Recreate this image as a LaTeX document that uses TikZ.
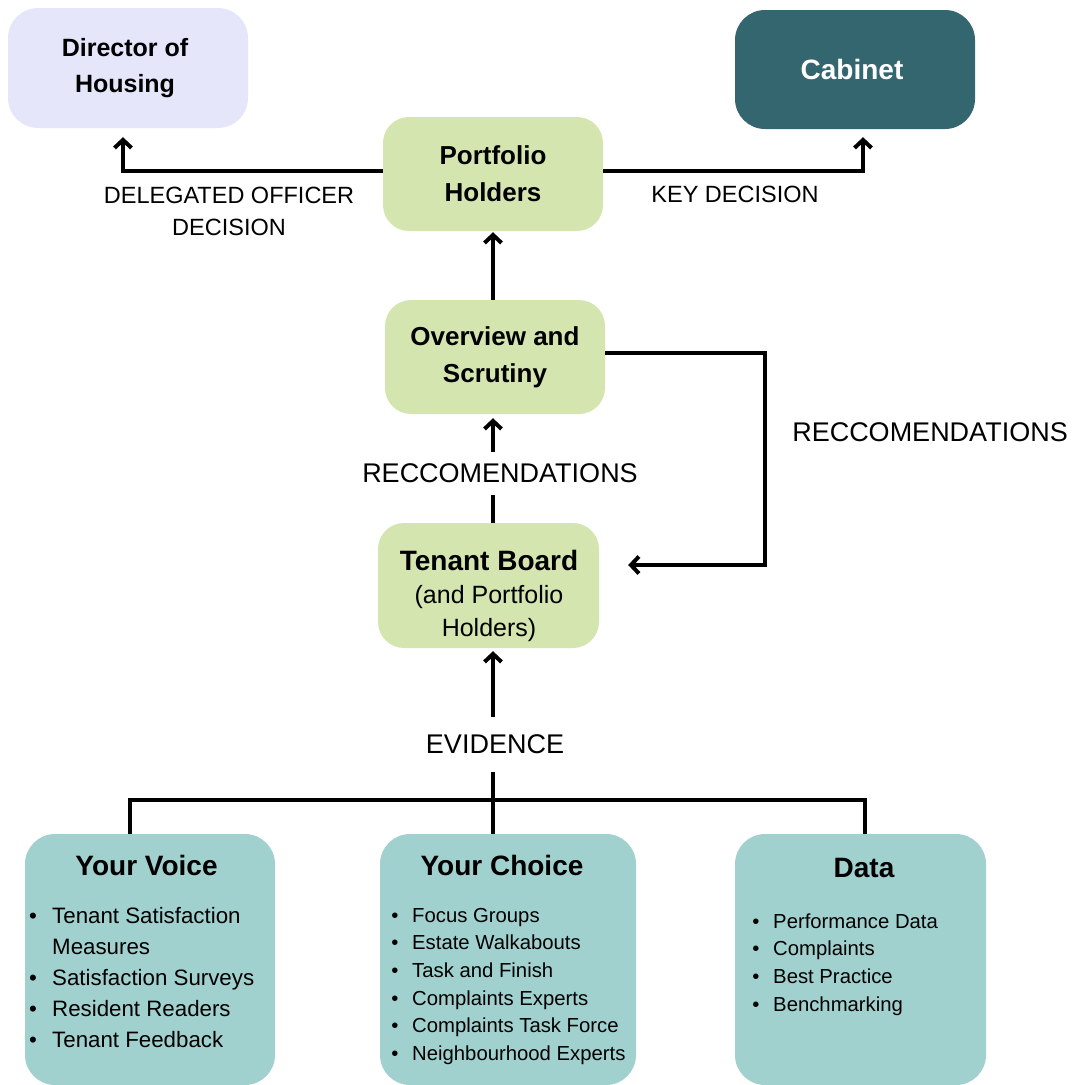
\documentclass[tikz,border=0pt]{standalone}
\usepackage{fontspec}
\setmainfont{Liberation Sans}
\usetikzlibrary{arrows.meta,calc}
\definecolor{lav}{HTML}{E6E6FB}
\definecolor{cab}{HTML}{33666F}
\definecolor{grn}{HTML}{D4E5B0}
\definecolor{tl}{HTML}{A1D1CF}
\begin{document}
\begin{tikzpicture}[x=1pt,y=-1pt,
  topbox/.style={rounded corners=30pt, inner sep=0pt, align=center, font=\bfseries\fontsize{25}{36}\selectfont},
  grnbox/.style={rounded corners=26pt, fill=grn, inner sep=0pt, align=center, font=\bfseries\fontsize{26}{37}\selectfont},
  botbox/.style={rounded corners=30pt, fill=tl, inner sep=0pt, minimum height=251pt},
  head/.style={anchor=base, inner sep=0pt, font=\bfseries\fontsize{28}{34}\selectfont},
  itemA/.style={anchor=base west, inner sep=0pt, font=\fontsize{22.3}{31}\selectfont},
  itemB/.style={anchor=base west, inner sep=0pt, font=\fontsize{20.3}{28}\selectfont},
  bulA/.style={anchor=base, inner sep=0pt, font=\fontsize{22.3}{31}\selectfont},
  bulB/.style={anchor=base, inner sep=0pt, font=\fontsize{20.3}{28}\selectfont},
  lblS/.style={inner sep=0pt, align=center, font=\fontsize{23.5}{32}\selectfont},
  lblL/.style={inner sep=0pt, align=center, font=\fontsize{27}{32}\selectfont},
  ln/.style={line width=4pt},
  arr/.style={line width=4pt, -{Straight Barb[length=8pt,width=17pt]}}
]
\useasboundingbox (0,0) rectangle (1086,1084);

% top row
\node[topbox, fill=lav, minimum width=240pt, minimum height=120pt] (dh) at (128,68) {};
\node[inner sep=0pt, align=center, font=\bfseries\fontsize{25}{36}\selectfont] (dht) at (125,68) {Director of\\Housing};
\node[topbox, fill=cab, minimum width=240pt, minimum height=119pt] (cab) at (855,69.5) {};
\node[inner sep=0pt, text=white, font=\bfseries\fontsize{28}{34}\selectfont] (cabt) at (852,69.5) {Cabinet};

% green boxes
\node[grnbox, minimum width=220pt, minimum height=114pt] (ph) at (493,174) {Portfolio\\Holders};
\node[grnbox, minimum width=220pt, minimum height=114pt] (ov) at (495,357) {Overview and\\Scrutiny};
\node[grnbox, minimum width=221pt, minimum height=125pt] (tb) at (488.5,585.5) {};
\node[inner sep=0pt, align=center, font=\fontsize{25}{33}\selectfont] (tbt) at (489,596) {{\bfseries\fontsize{28}{34}\selectfont Tenant Board}\\(and Portfolio\\Holders)};

% labels
\node[lblS] (dod) at (229,211) {DELEGATED OFFICER\\DECISION};
\node[lblS, anchor=base] (kd) at (735,202) {KEY DECISION};
\node[lblL, minimum height=43pt] (rec1) at (500,473.5) {RECCOMENDATIONS};
\node[lblL, anchor=base] (rec2) at (930,441) {RECCOMENDATIONS};
\node[lblL, minimum height=55pt] (ev) at (495,744.5) {EVIDENCE};

% connectors top
\draw[arr] ([yshift=3pt]ph.west) -| ([xshift=-5pt,yshift=-9pt]dh.south);
\draw[arr] ([yshift=3pt]ph.east) -| ([xshift=8pt,yshift=-8pt]cab.south);
\draw[arr] ([xshift=-2pt]ov.north) -- ([yshift=-1pt]ph.south);
\draw[ln] (tb.north -| ph.south) -- (rec1.south -| ph.south);
\draw[arr] (rec1.north -| ph.south) -- ([yshift=-4pt]ov.south -| ph.south);
\draw[arr] ([yshift=4pt]ov.east) -- ++(160,0) |- ([xshift=29pt,yshift=20.5pt]tb.east);

% evidence bus
\coordinate (bl) at (130,800);
\coordinate (bm) at (493,800);
\coordinate (br) at (865,800);
\draw[arr] (ev.north -| bm) -- ([yshift=-3pt]tb.south -| bm);
\draw[ln] (bm |- 0,836) -- (ev.south -| bm);
\draw[ln] (130,836) -- (bl) -- (br) -- (865,836);

% bottom boxes
\node[botbox, minimum width=250pt] (yv) at (150,959.5) {};
\node[botbox, minimum width=256pt] (yc) at (508,959.5) {};
\node[botbox, minimum width=251pt] (dt) at (860.5,959.5) {};

\node[head] (yvh) at (146.5,875) {Your Voice};
\node[head] (ych) at (502,875) {Your Choice};
\node[head] (dth) at (864,877) {Data};

% Your Voice items
\node[bulA] (yvb1) at (33,923) {•};
\node[itemA] (yvi1) at (52,923) {Tenant Satisfaction};
\node[itemA] (yvi1b) at (52,954) {Measures};
\node[bulA] (yvb2) at (33,985.5) {•};
\node[itemA] (yvi2) at (52,985.5) {Satisfaction Surveys};
\node[bulA] (yvb3) at (33,1016.5) {•};
\node[itemA] (yvi3) at (52,1016.5) {Resident Readers};
\node[bulA] (yvb4) at (33,1047.5) {•};
\node[itemA] (yvi4) at (52,1047.5) {Tenant Feedback};

% Your Choice items
\foreach \t [count=\i] in {Focus Groups, Estate Walkabouts, Task and Finish, Complaints Experts, Complaints Task Force, Neighbourhood Experts} {
  \node[bulB] (ycb\i) at (395,{922+27.7*(\i-1)}) {•};
  \node[itemB] (yci\i) at (412,{922+27.7*(\i-1)}) {\t};
}

% Data items
\foreach \t [count=\i] in {Performance Data, Complaints, Best Practice, Benchmarking} {
  \node[bulB] (dtb\i) at (756,{928+27.8*(\i-1)}) {•};
  \node[itemB] (dti\i) at (773,{928+27.8*(\i-1)}) {\t};
}
\end{tikzpicture}
\end{document}
